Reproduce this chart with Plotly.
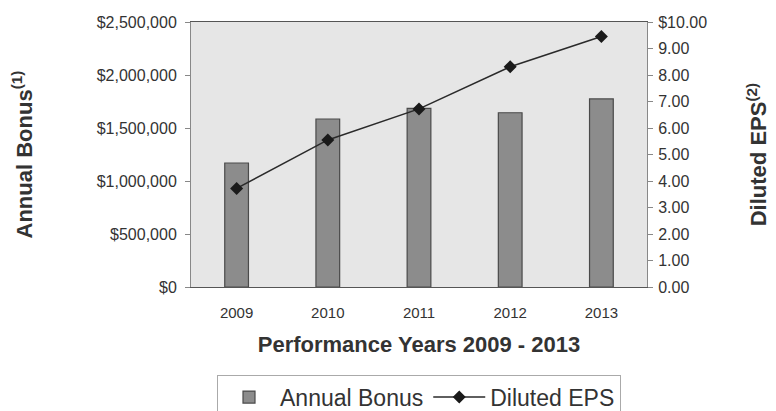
import plotly.graph_objects as go

years = ["2009", "2010", "2011", "2012", "2013"]
bonus = [1170000, 1585000, 1686000, 1644000, 1774000]
eps = [3.72, 5.55, 6.72, 8.31, 9.45]

left_ticks = [0, 500000, 1000000, 1500000, 2000000, 2500000]
left_text = ["$0", "$500,000", "$1,000,000", "$1,500,000", "$2,000,000", "$2,500,000"]
right_ticks = [0, 1, 2, 3, 4, 5, 6, 7, 8, 9, 10]
right_text = ["0.00", "1.00", "2.00", "3.00", "4.00", "5.00", "6.00", "7.00", "8.00", "9.00", "$10.00"]

font = "Liberation Sans, Arial, sans-serif"
txt = "#333333"

fig = go.Figure()
fig.add_trace(go.Bar(
    x=years, y=bonus, name="Annual Bonus",
    marker=dict(color="#8c8c8c", line=dict(color="#4a4a4a", width=1.2)),
    width=0.26,
))
fig.add_trace(go.Scatter(
    x=years, y=eps, name="Diluted EPS", yaxis="y2",
    mode="lines+markers",
    line=dict(color="#2a2a2a", width=1.5),
    marker=dict(symbol="diamond", size=10, color="#1a1a1a"),
))

# page body has an 8px margin, so margins are shifted to compensate
fig.update_layout(
    width=776, height=411,
    margin=dict(l=183, r=137, t=14, b=132),
    paper_bgcolor="white",
    plot_bgcolor="#e6e6e6",
    font=dict(family=font, color=txt, size=12),
    showlegend=True,
    legend=dict(
        orientation="h", x=0.5, xanchor="center", xref="paper",
        y=0.108, yanchor="top", yref="container",
        bordercolor="#aaaaaa", borderwidth=1, bgcolor="white",
        font=dict(size=23, color=txt),
        itemwidth=52,
    ),
    xaxis=dict(
        type="category", range=[-0.5, 4.5], automargin=False,
        showline=True, linecolor="#555555", linewidth=1, mirror=True,
        ticks="", showgrid=False, ticklabelstandoff=12,
        tickfont=dict(size=15, color=txt),
        title=dict(text="<b>Performance Years 2009 - 2013</b>", font=dict(size=22, color=txt), standoff=16),
    ),
    yaxis=dict(
        range=[0, 2500000], tickvals=left_ticks, ticktext=left_text, automargin=False,
        showline=True, linecolor="#888888", linewidth=1, mirror=False,
        ticks="outside", ticklen=5, tickcolor="#888888",
        showgrid=False, zeroline=False, ticklabelstandoff=5,
        tickfont=dict(size=16, color=txt),
        title=dict(text="<b>Annual Bonus<sup>(1)</sup></b>", font=dict(size=22, color=txt), standoff=58),
    ),
    yaxis2=dict(
        range=[0, 10], tickvals=right_ticks, ticktext=right_text, automargin=False,
        overlaying="y", side="right",
        showline=True, linecolor="#888888", linewidth=1,
        ticks="outside", ticklen=5, tickcolor="#888888",
        showgrid=False, zeroline=False, ticklabelstandoff=2,
        tickfont=dict(size=16, color=txt),
        title=dict(text="<b>Diluted EPS<sup>(2)</sup></b>", font=dict(size=22, color=txt), standoff=44),
    ),
)

fig.write_html("out.html")
